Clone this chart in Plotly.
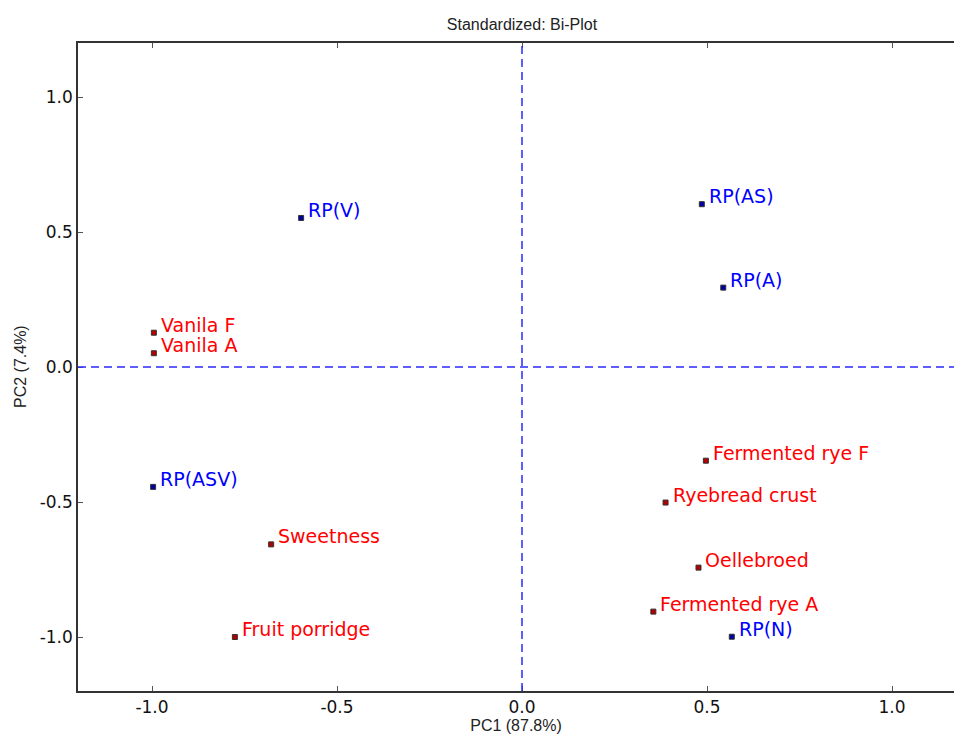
import plotly.graph_objects as go

# Red (attribute) points
red_labels = ["Vanila F", "Vanila A", "Sweetness", "Fruit porridge",
              "Fermented rye F", "Ryebread crust", "Oellebroed", "Fermented rye A"]
red_pc1 = [-0.995, -0.995, -0.678, -0.776, 0.497, 0.388, 0.477, 0.355]
red_pc2 = [0.127, 0.051, -0.657, -1.0, -0.347, -0.502, -0.743, -0.906]

# Blue (product) points
blue_labels = ["RP(V)", "RP(AS)", "RP(A)", "RP(ASV)", "RP(N)"]
blue_pc1 = [-0.597, 0.486, 0.544, -0.997, 0.567]
blue_pc2 = [0.552, 0.603, 0.294, -0.444, -0.999]

tick_vals = [-1.0, -0.5, 0.0, 0.5, 1.0]
tick_text = ["-1.0", "-0.5", "0.0", "0.5", "1.0"]

fig = go.Figure()

fig.add_trace(go.Scatter(x=red_pc1, y=red_pc2, mode="markers",
                         marker=dict(symbol="square", size=5, color="#b00000",
                                     line=dict(color="#333333", width=1)),
                         hoverinfo="text", text=red_labels, showlegend=False))
fig.add_trace(go.Scatter(x=blue_pc1, y=blue_pc2, mode="markers",
                         marker=dict(symbol="square", size=5, color="#0000a0",
                                     line=dict(color="#333333", width=1)),
                         hoverinfo="text", text=blue_labels, showlegend=False))

annotations = []
for lab, x, y in zip(red_labels, red_pc1, red_pc2):
    annotations.append(dict(x=x, y=y, text=lab, showarrow=False, xanchor="left",
                            yanchor="middle", xshift=5, yshift=8,
                            font=dict(family="DejaVu Sans", size=19, color="#ff0000")))
for lab, x, y in zip(blue_labels, blue_pc1, blue_pc2):
    annotations.append(dict(x=x, y=y, text=lab, showarrow=False, xanchor="left",
                            yanchor="middle", xshift=5, yshift=8,
                            font=dict(family="DejaVu Sans", size=19, color="#0000ff")))

# Y axis title
annotations.append(dict(xref="paper", yref="paper", x=0, y=0.5, xshift=-58,
                        text="PC2 (7.4%)", textangle=-90, showarrow=False,
                        xanchor="center", yanchor="middle",
                        font=dict(family="Liberation Sans", size=16, color="#222222")))

# Origin lines
fig.add_shape(type="line", xref="x", yref="paper", x0=0, x1=0, y0=0, y1=1,
              line=dict(color="#2a2aff", width=1.5, dash="8px,5px"))
fig.add_shape(type="line", xref="paper", yref="y", x0=0, x1=1, y0=0, y1=0,
              line=dict(color="#2a2aff", width=1.5, dash="8px,5px"))

fig.update_layout(
    width=954, height=736,
    margin=dict(l=78, r=0, t=43, b=45),
    paper_bgcolor="white", plot_bgcolor="white",
    title=dict(text="Standardized: Bi-Plot", x=522 / 954, xanchor="center",
               y=1 - 24 / 736, yanchor="middle",
               font=dict(family="Liberation Sans", size=16, color="#222222")),
    annotations=annotations,
    xaxis=dict(range=[-1.2, (954 - 522) / 370], tickvals=tick_vals, ticktext=tick_text,
               showgrid=False, zeroline=False, showline=True, linecolor="#333333",
               linewidth=1.5, mirror="ticks", ticks="inside", ticklen=5,
               tickcolor="#555555", tickfont=dict(family="DejaVu Sans", size=17, color="#111111"),
               title=dict(text="PC1 (87.8%)", standoff=4,
                          font=dict(family="Liberation Sans", size=16, color="#222222"))),
    yaxis=dict(range=[-1.2, 1.2], tickvals=tick_vals, ticktext=tick_text,
               showgrid=False, zeroline=False, showline=True, linecolor="#333333",
               linewidth=1.5, mirror=False, ticks="inside", ticklen=5,
               tickcolor="#555555", tickfont=dict(family="DejaVu Sans", size=17, color="#111111")),
)

fig.write_html("out.html",
               config={"displayModeBar": False},
               post_script="document.body.style.margin='0';document.body.style.padding='0';"
                           "document.body.style.overflow='hidden';")
